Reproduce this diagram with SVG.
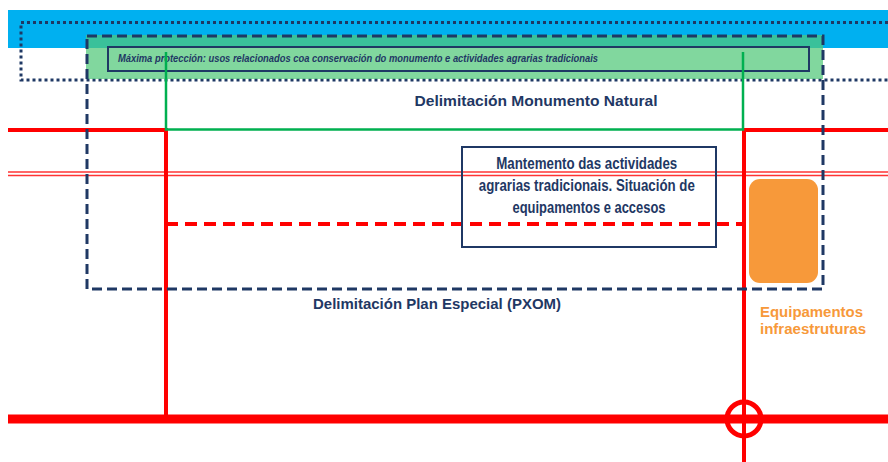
<svg xmlns="http://www.w3.org/2000/svg" width="888" height="462" viewBox="0 0 888 462">
<style>
.nv{fill:#1f3864;font-family:"Liberation Sans",Arial,sans-serif;font-weight:bold}
.or{fill:#f7993a;font-family:"Liberation Sans",Arial,sans-serif;font-weight:bold;font-size:14px}
.box{fill:none;stroke:#1f3864;stroke-width:2}
.red{stroke:#ff0000;fill:none}
</style>
<rect width="888" height="462" fill="#ffffff"/>
<g id="zona-azul">
<rect x="8" y="10" width="880" height="38" fill="#00b0f0"/>
<path d="M888 22.5 H21 V80 H888" fill="none" stroke="#1f3864" stroke-width="3" stroke-dasharray="3 3"/>
</g>
<g id="maxima-proteccion">
<rect x="86" y="35" width="737" height="44" fill="#50c878" fill-opacity="0.72"/>
<rect x="108" y="47" width="701" height="24" class="box"/>
<text x="118" y="61.5" class="nv" font-size="11" font-style="italic" textLength="480" lengthAdjust="spacingAndGlyphs">Máxima protección: usos relacionados coa conservación do monumento e actividades agrarias tradicionais</text>
</g>
<g id="connectors">
<line x1="8" y1="172" x2="888" y2="172" stroke="#ff3333" stroke-width="1.5"/>
<line x1="8" y1="175.5" x2="888" y2="175.5" stroke="#ff3333" stroke-width="1.5"/>
<path d="M8 130 H166 V418" class="red" stroke-width="4"/>
<path d="M888 130 H744 V462" class="red" stroke-width="4"/>
<line x1="166" y1="224" x2="744" y2="224" class="red" stroke-width="4" stroke-dasharray="12 7"/>
<line x1="8" y1="419" x2="888" y2="419" class="red" stroke-width="9"/>
<circle cx="744" cy="419" r="17" class="red" stroke-width="5"/>
<path d="M166 52 V129.5 H743 V52" fill="none" stroke="#00b050" stroke-width="2.5"/>
</g>
<g id="plan-especial">
<rect x="87" y="36" width="736" height="253" fill="none" stroke="#1f3864" stroke-width="3" stroke-dasharray="10 5"/>
<text x="437" y="309" class="nv" font-size="15" text-anchor="middle" textLength="248" lengthAdjust="spacingAndGlyphs">Delimitación Plan Especial (PXOM)</text>
</g>
<g id="monumento-natural">
<text x="536" y="106" class="nv" font-size="15" text-anchor="middle" textLength="243" lengthAdjust="spacingAndGlyphs">Delimitación Monumento Natural</text>
</g>
<g id="mantemento">
<rect x="462" y="147" width="254" height="100" fill="none" class="box"/>
<text class="nv" font-size="16" text-anchor="middle">
<tspan x="589" y="169" textLength="181" lengthAdjust="spacingAndGlyphs">Mantemento das actividades</tspan>
<tspan x="589" y="191" textLength="216" lengthAdjust="spacingAndGlyphs">agrarias tradicionais. Situación de</tspan>
<tspan x="589" y="213" textLength="153" lengthAdjust="spacingAndGlyphs">equipamentos e accesos</tspan>
</text>
</g>
<g id="equipamentos">
<rect x="749" y="179" width="69" height="104" rx="11" fill="#f7993a"/>
<text class="or">
<tspan x="760" y="317" textLength="103" lengthAdjust="spacingAndGlyphs">Equipamentos</tspan>
<tspan x="760" y="334" textLength="106" lengthAdjust="spacingAndGlyphs">infraestruturas</tspan>
</text>
</g>
</svg>
